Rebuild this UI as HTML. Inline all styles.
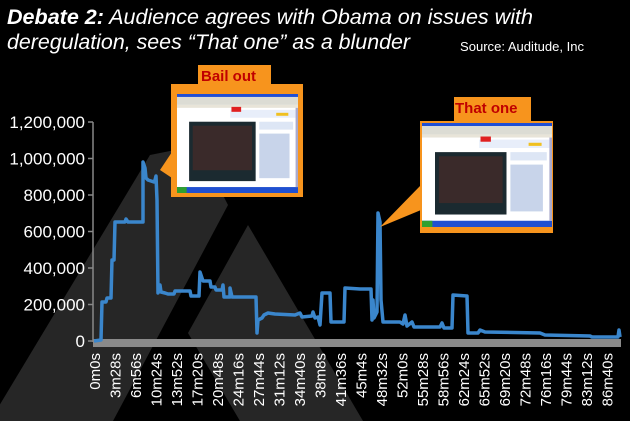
<!DOCTYPE html>
<html><head><meta charset="utf-8"><style>
body{margin:0;background:#000;}
#c{position:relative;width:630px;height:421px;overflow:hidden;background:#000;font-family:"Liberation Sans",sans-serif;}
</style></head><body><div id="c">
<svg width="630" height="421" style="position:absolute;left:0;top:0">
<defs>
<g id="shot">
<rect x="0" y="0" width="100" height="100" fill="#fff"/>
<rect x="0" y="0" width="100" height="3" fill="#1f4fd6"/>
<rect x="0" y="3" width="100" height="8" fill="#dcdcd4"/>
<rect x="0" y="11" width="100" height="3" fill="#e8e4d8"/>
<rect x="44" y="16" width="54" height="8" fill="#e8eefa"/>
<rect x="82" y="19" width="10" height="3" fill="#f0c020"/>
<rect x="45" y="13" width="8" height="5" fill="#e02020"/>
<rect x="10" y="28" width="55" height="60" fill="#1b2a30"/>
<rect x="13" y="32" width="49" height="45" fill="#3a2a2a"/>
<rect x="68" y="28" width="28" height="8" fill="#dde6f5"/>
<rect x="68" y="40" width="25" height="45" fill="#c8d4ea"/>
<rect x="0" y="94" width="100" height="6" fill="#2050d0"/>
<rect x="0" y="94" width="8" height="6" fill="#30a030"/>
<rect x="98" y="14" width="2" height="80" fill="#aac"/>
</g>
</defs>
<polygon points="-10,421 150,155 175,150 210,170 228,205 113,421" fill="#262626"/>
<polygon points="248,225 188,333 240,421 363,421" fill="#262626"/>
<line x1="93" y1="122" x2="93" y2="342" stroke="#888" stroke-width="1.5"/>
<rect x="93" y="339" width="528" height="8" fill="#8a8a8a"/>
<g stroke="#888" stroke-width="1.5">
<line x1="88" y1="122" x2="93" y2="122"/><line x1="88" y1="158.5" x2="93" y2="158.5"/><line x1="88" y1="195" x2="93" y2="195"/><line x1="88" y1="231.5" x2="93" y2="231.5"/><line x1="88" y1="268" x2="93" y2="268"/><line x1="88" y1="304.5" x2="93" y2="304.5"/><line x1="88" y1="341" x2="93" y2="341"/>
</g>
<g fill="#fff" font-size="17" text-anchor="end" font-family="Liberation Sans,sans-serif">
<text x="85" y="128">1,200,000</text><text x="85" y="164.5">1,000,000</text><text x="85" y="201">800,000</text><text x="85" y="237.5">600,000</text><text x="85" y="274">400,000</text><text x="85" y="310.5">200,000</text><text x="85" y="347">0</text>
</g>
<g fill="#fff" font-size="15" text-anchor="end" font-family="Liberation Sans,sans-serif">
<text transform="translate(100,353) rotate(-90)">0m0s</text>
<text transform="translate(120.5,353) rotate(-90)">3m28s</text>
<text transform="translate(141,353) rotate(-90)">6m56s</text>
<text transform="translate(161.5,353) rotate(-90)">10m24s</text>
<text transform="translate(182,353) rotate(-90)">13m52s</text>
<text transform="translate(202.5,353) rotate(-90)">17m20s</text>
<text transform="translate(223,353) rotate(-90)">20m48s</text>
<text transform="translate(243.5,353) rotate(-90)">24m16s</text>
<text transform="translate(264,353) rotate(-90)">27m44s</text>
<text transform="translate(284.5,353) rotate(-90)">31m12s</text>
<text transform="translate(305,353) rotate(-90)">34m40s</text>
<text transform="translate(325.5,353) rotate(-90)">38m8s</text>
<text transform="translate(346,353) rotate(-90)">41m36s</text>
<text transform="translate(366.5,353) rotate(-90)">45m4s</text>
<text transform="translate(387,353) rotate(-90)">48m32s</text>
<text transform="translate(407.5,353) rotate(-90)">52m0s</text>
<text transform="translate(428,353) rotate(-90)">55m28s</text>
<text transform="translate(448.5,353) rotate(-90)">58m56s</text>
<text transform="translate(469,353) rotate(-90)">62m24s</text>
<text transform="translate(489.5,353) rotate(-90)">65m52s</text>
<text transform="translate(510,353) rotate(-90)">69m20s</text>
<text transform="translate(530.5,353) rotate(-90)">72m48s</text>
<text transform="translate(551,353) rotate(-90)">76m16s</text>
<text transform="translate(571.5,353) rotate(-90)">79m44s</text>
<text transform="translate(592,353) rotate(-90)">83m12s</text>
<text transform="translate(612.5,353) rotate(-90)">86m40s</text>
</g>
<polyline fill="none" stroke="#3a86cc" stroke-width="3.5" stroke-linejoin="round" points="94,341 101,340 102,302 106,302 107,298 111,298 112,260 114,260 115,222 125,222 126,219 128,222 140,222 143,222 143,162 145,168 146,178 148,180 154,182 155,180 156,176 157,200 158,293 160,285 161,292 165,293 168,294 174,294 175,291 190,291 191,296 199,296 200,272 203,281 210,281 211,287 215,287 216,290 222,290 223,285 224,297 230,297 230,288 232,297 256,297 257,333 258,320 262,318 264,315 268,313 275,314 295,315 300,313 302,317 312,316 313,312 315,318 318,317 320,325 322,293 330,293 331,322 344,322 345,288 360,289 371,289 372,320 373,300 374,318 377,312 378,213 380,222 381,300 383,322 400,322 403,324 405,315 407,326 412,322 414,327 440,327 442,323 444,328 452,328 453,295 467,296 468,333 478,333 480,330 485,332 540,333 545,335 590,336 592,337 618,337 619,330 620,337"/>
<polygon points="160,170 172,152 172,178" fill="#f7941d"/>
<rect x="198" y="65" width="73" height="20" fill="#f7941d"/>
<rect x="171" y="84" width="132" height="113" fill="#f7941d"/>
<text x="201" y="81" fill="#c00000" font-size="15" font-weight="bold">Bail out</text>
<g transform="translate(177,94) scale(1.21,0.99)"><use href="#shot"/></g>
<polygon points="380,227 421,185 421,210" fill="#f7941d"/>
<rect x="454" y="97" width="77" height="25" fill="#f7941d"/>
<rect x="420" y="121" width="133" height="112" fill="#f7941d"/>
<text x="455" y="113" fill="#c00000" font-size="15" font-weight="bold">That one</text>
<g transform="translate(422,123) scale(1.3,1.04)"><use href="#shot"/></g>
<text x="7" y="24" fill="#fff" font-size="21" font-style="italic" textLength="526" lengthAdjust="spacingAndGlyphs"><tspan font-weight="bold">Debate 2:</tspan> Audience agrees with Obama on issues with</text>
<text x="7" y="49" fill="#fff" font-size="21" font-style="italic" textLength="403" lengthAdjust="spacingAndGlyphs">deregulation, sees “That one” as a blunder</text>
<text x="460" y="51" fill="#fff" font-size="13" textLength="124" lengthAdjust="spacingAndGlyphs">Source: Auditude, Inc</text>
</svg>
</div></body></html>
